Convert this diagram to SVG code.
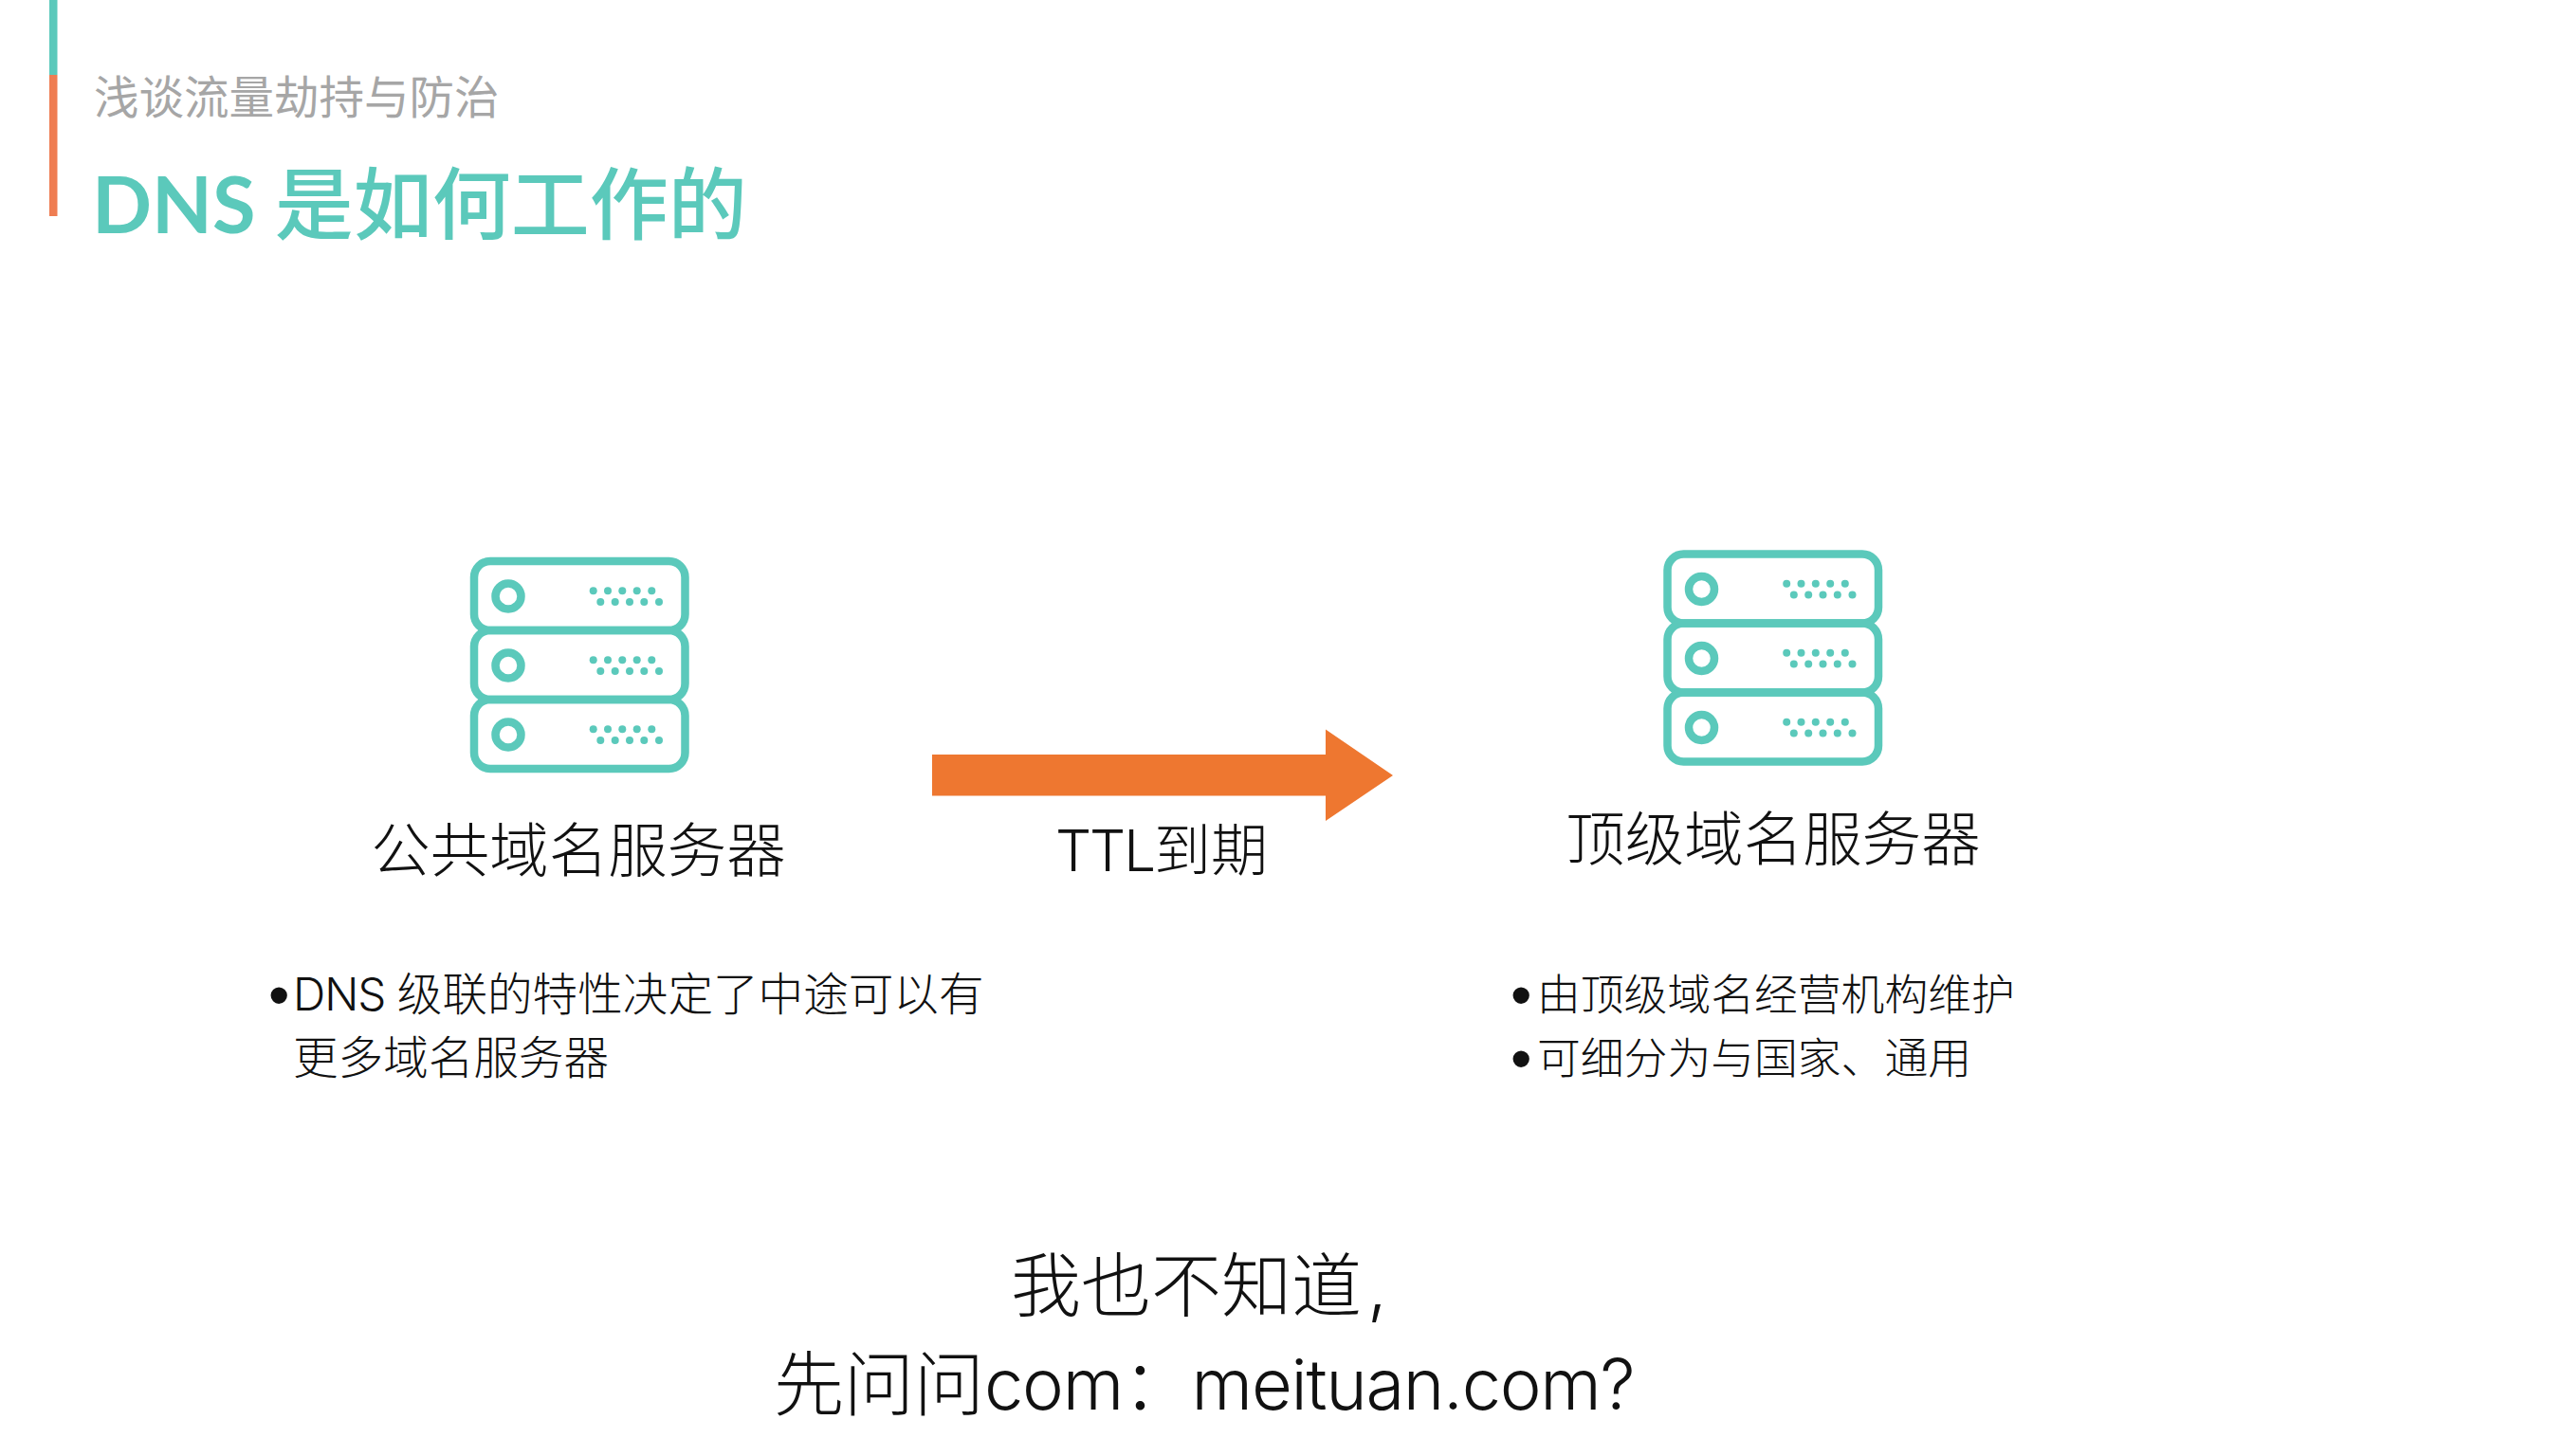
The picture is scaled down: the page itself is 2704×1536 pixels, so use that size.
<svg xmlns="http://www.w3.org/2000/svg" width="2704" height="1536" viewBox="0 0 2704 1536">
<style>
text{font-family:"Noto Sans CJK SC",sans-serif;fill:#111;font-weight:300}
.lat{font-family:Inter,"Noto Sans CJK SC",sans-serif}
.lbl{font-size:62.5px;text-anchor:middle}
.b{font-size:47.6px}
.r{font-size:45.8px}
.bul{font-family:"Liberation Sans",sans-serif;font-size:64px;font-weight:400}
.big{font-size:74px}
.box{fill:none;stroke:#5bc9bb;stroke-width:8.5}
.dot{fill:#5bc9bb}
</style>
<defs>
<g id="row">
<rect class="box" x="500" y="592" width="222.500" height="73" rx="17"/>
<circle class="box" cx="536" cy="629" r="13.5"/>
<g class="dot">
<circle cx="625.7" cy="623.3" r="4"/><circle cx="641" cy="623.3" r="4"/><circle cx="656.3" cy="623.3" r="4"/><circle cx="671.7" cy="623.3" r="4"/><circle cx="687.3" cy="623.3" r="4"/>
<circle cx="633.3" cy="635" r="4"/><circle cx="648.7" cy="635" r="4"/><circle cx="664" cy="635" r="4"/><circle cx="679.3" cy="635" r="4"/><circle cx="695" cy="635" r="4"/>
</g>
</g>
<g id="server"><use href="#row"/><use href="#row" y="73"/><use href="#row" y="146"/></g>
</defs>
<rect width="2704" height="1536" fill="#fff"/>
<g id="header">
<rect x="52" y="0" width="8.500" height="79" fill="#5bc9bb"/>
<rect x="52" y="79" width="8.500" height="149" fill="#ef7d52"/>
<text x="99" y="120" font-size="47.500" style="fill:#a6a6a6;font-weight:400">浅谈流量劫持与防治</text>
<text x="97" y="246" font-size="83" style="font-family:Lato,'Noto Sans CJK SC',sans-serif;font-weight:700;fill:#5bc9bb">DNS <tspan style="font-family:'Noto Sans CJK SC',sans-serif;font-weight:500">是如何工作的</tspan></text>
</g>
<g id="connectors">
<polygon id="ttl-arrow" points="983,796 1398,796 1398,769.5 1469,818 1398,866 1398,839.5 983,839.5" fill="#ee7730"/>
<text x="1225" y="919" class="lat" font-size="60" text-anchor="middle"><tspan letter-spacing="-2">TTL</tspan>到期</text>
</g>
<g id="public-dns">
<use href="#server"/>
<text x="610" y="920" class="lbl">公共域名服务器</text>
<text x="283" y="1072" class="bul">•</text>
<text x="309" y="1066" class="b lat"><tspan letter-spacing="-1">DNS </tspan>级联的特性决定了中途可以有</text>
<text x="309" y="1133" class="b">更多域名服务器</text>
</g>
<g id="tld-dns">
<use href="#server" x="1258.500" y="-7.5"/>
<text x="1870" y="908" class="lbl">顶级域名服务器</text>
<text x="1593" y="1072" class="bul">•</text>
<text x="1621" y="1066" class="r">由顶级域名经营机构维护</text>
<text x="1593" y="1139" class="bul">•</text>
<text x="1621" y="1133" class="r">可细分为与国家、通用</text>
</g>
<g id="caption">
<text x="1066" y="1383" class="big lat">我也不知道<tspan dx="6">,</tspan></text>
<text x="816" y="1487" class="big lat">先问问<tspan letter-spacing="-1.3">com：meituan.com?</tspan></text>
</g>
</svg>
